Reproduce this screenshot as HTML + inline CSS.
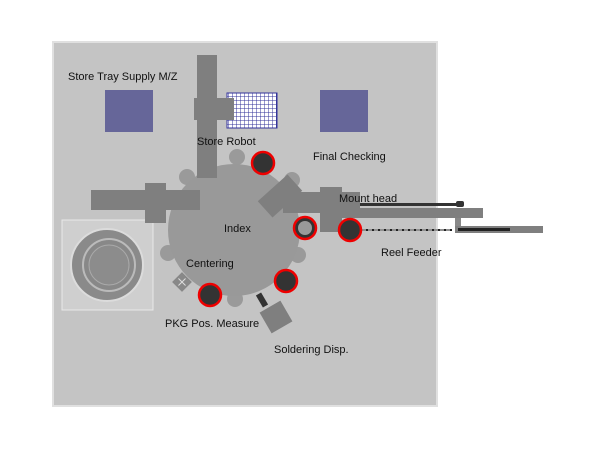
<!DOCTYPE html>
<html><head><style>body{margin:0;background:#fff}svg{display:block}text{font-family:"Liberation Sans",sans-serif;font-size:11px;fill:#111}</style></head><body>
<svg width="600" height="450" viewBox="0 0 600 450">
<defs><pattern id="g" width="4" height="4" patternUnits="userSpaceOnUse"><rect width="4" height="4" fill="#fff"/><path d="M0 0H4M0 0V4" stroke="#33339a" stroke-width="1"/></pattern></defs>
<rect x="53" y="42" width="384" height="364" fill="#c4c4c4" stroke="#e0e0e0" stroke-width="2"/>
<rect x="105" y="90" width="48" height="42" fill="#666699"/>
<rect x="320" y="90" width="48" height="42" fill="#666699"/>
<rect x="227" y="93" width="50" height="35" fill="url(#g)" stroke="#33339a"/>
<rect x="62" y="220" width="91" height="90" fill="#cfcfcf" stroke="#e8e8e8"/>
<circle cx="107" cy="265" r="36" fill="#8a8a8a" stroke="#dcdcdc" stroke-width="2"/>
<circle cx="109" cy="265" r="26" fill="#888" stroke="#bbb" stroke-width="2"/>
<circle cx="109" cy="265" r="20" fill="#8c8c8c" stroke="#aaa"/>
<g fill="#9a9a9a"><circle cx="237" cy="157" r="8"/><circle cx="187" cy="177" r="8"/><circle cx="168" cy="253" r="8"/><circle cx="298" cy="255" r="8"/><circle cx="235" cy="299" r="8"/><circle cx="292" cy="180" r="8"/></g>
<circle cx="234" cy="230" r="66" fill="#999"/>
<rect x="260" y="185" width="40" height="22" fill="#7f7f7f" transform="rotate(-42 280 196)"/>
<rect x="197" y="55" width="20" height="123" fill="#7f7f7f"/>
<rect x="194" y="98" width="40" height="22" fill="#7f7f7f"/>
<rect x="91" y="190" width="109" height="20" fill="#7f7f7f"/>
<rect x="145" y="183" width="21" height="40" fill="#7f7f7f"/>
<rect x="340" y="208" width="143" height="10" fill="#7f7f7f"/>
<rect x="345" y="203" width="115" height="3" fill="#333"/><rect x="456" y="201" width="8" height="6" rx="2" fill="#333"/>
<rect x="455" y="218" width="6" height="10" fill="#888"/>
<rect x="455" y="226" width="88" height="7" fill="#7f7f7f"/>
<rect x="458" y="228" width="52" height="3" fill="#222"/>
<line x1="362" y1="230" x2="452" y2="230" stroke="#222" stroke-width="2"/>
<line x1="362" y1="230" x2="452" y2="230" stroke="#fff" stroke-width="1" stroke-dasharray="4 2"/>
<rect x="283" y="192" width="77" height="21" fill="#7f7f7f"/>
<rect x="320" y="187" width="22" height="45" fill="#7f7f7f"/>
<g fill="#333" stroke="#e00" stroke-width="2.5"><circle cx="263" cy="163" r="11"/><circle cx="305" cy="228" r="11"/><circle cx="350" cy="230" r="11"/><circle cx="286" cy="281" r="11"/><circle cx="210" cy="295" r="11"/></g>
<circle cx="305" cy="228" r="7" fill="#999"/>
<rect x="175" y="275" width="14" height="14" fill="#888" transform="rotate(-45 182 282)"/>
<path d="M177 282H187M182 277V287" stroke="#ddd" transform="rotate(45 182 282)"/>
<rect x="259" y="293" width="6" height="14" fill="#333" transform="rotate(-30 262 300)"/>
<rect x="264" y="305" width="24" height="24" fill="#7f7f7f" transform="rotate(-30 276 317)"/>
<text x="68" y="80">Store Tray Supply M/Z</text>
<text x="197" y="145">Store Robot</text>
<text x="313" y="160">Final Checking</text>
<text x="339" y="202">Mount head</text>
<text x="224" y="232">Index</text>
<text x="381" y="256">Reel Feeder</text>
<text x="186" y="267">Centering</text>
<text x="165" y="327">PKG Pos. Measure</text>
<text x="274" y="353">Soldering Disp.</text>
</svg></body></html>
